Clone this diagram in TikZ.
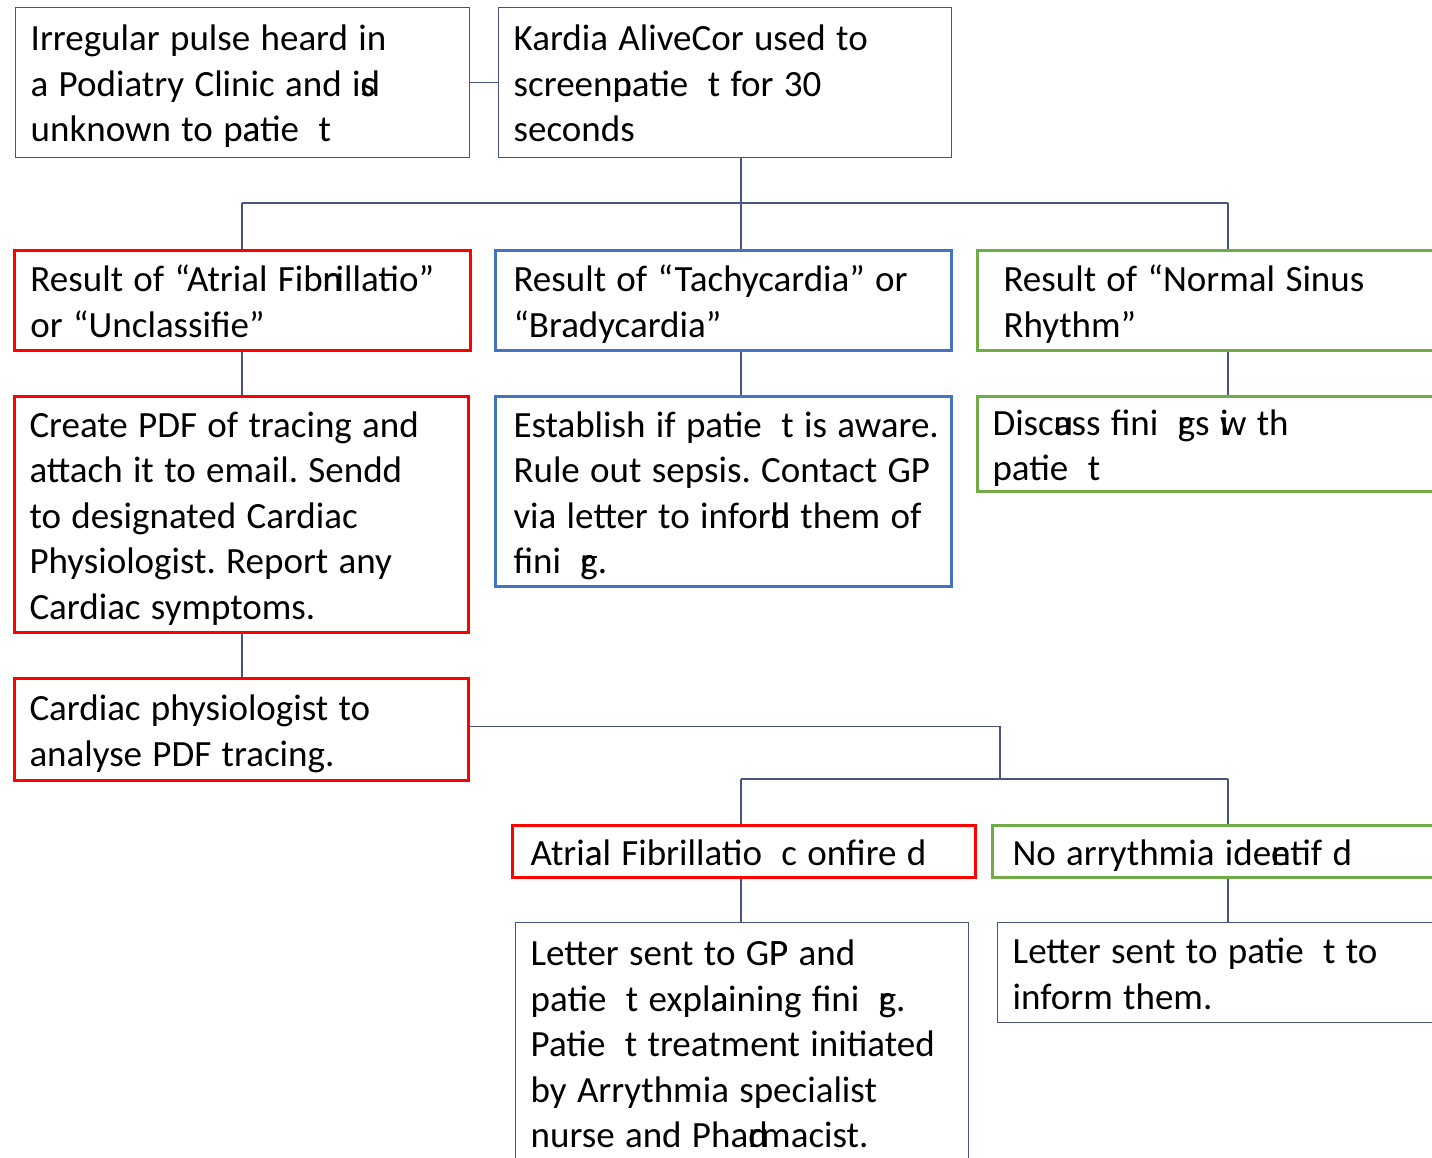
\documentclass[tikz,border=0pt]{standalone}
\usepackage{fontspec}
\setmainfont{Carlito}
\usetikzlibrary{backgrounds}
\definecolor{slate}{RGB}{72,84,128}
\definecolor{boxred}{RGB}{255,0,0}
\definecolor{boxblue}{RGB}{68,114,196}
\definecolor{boxgreen}{RGB}{112,173,71}
\newcommand{\boxfont}{\fontsize{37}{45.5}\selectfont\frenchspacing}
\tikzset{
  base/.style={rectangle, anchor=north west, align=left, inner xsep=15pt, inner ysep=0pt,
    font=\boxfont, text=black},
  plainbox/.style={base, draw=slate, line width=1.4pt},
  redbox/.style={base, draw=boxred, line width=3pt},
  bluebox/.style={base, draw=boxblue, line width=3pt},
  greenbox/.style={base, draw=boxgreen, line width=3pt},
  conn/.style={draw=slate, line width=1.4pt},
  ghost/.style={draw=slate, line width=1pt}
}
\newcommand{\gp}{\phantom{n}}
\newcommand{\lin}[1]{\mbox{\spaceskip=0.28em\relax\rule[-9pt]{0pt}{45.5pt}#1}}
\begin{document}
\begin{tikzpicture}[x=1pt,y=-1pt]
\useasboundingbox (0,0) rectangle (1432,1157);
\clip (0,0) rectangle (1432,1157);
\fill[white] (0,0) rectangle (1432,1157);
% row 1
\node[plainbox, minimum width=454pt, minimum height=150pt, text width=424pt] (a) at (15,7)
  {\lin{Irregular pulse heard in}\\\lin{a Podiatry Clinic and i\rlap{s}d}\\\lin{unknown to p\rlap{a}atie\gp t}};
\node[plainbox, minimum width=453pt, minimum height=150pt, text width=423pt] (b) at (498,7)
  {\lin{Kardia AliveCor used to}\\\lin{screen\rlap{n}patie\gp t for 30}\\\lin{seconds}};
% row 2
\node[redbox, minimum width=454pt, minimum height=100pt, text width=424pt, inner xsep=16pt] (r1) at (13,249)
  {\lin{Result of “Atrial Fib\rlap{n}rillatio”}\\\lin{or “Unclassifie”}};
\node[bluebox, minimum width=456pt, minimum height=100pt, text width=420pt, inner xsep=18pt] (bl1) at (494,249)
  {\lin{Result of “Tachycardia” or}\\\lin{“Bradycardia”}};
\node[greenbox, minimum width=470pt, minimum height=100pt, text width=430pt, inner xsep=26pt] (g1) at (976,249)
  {\lin{Result of “Normal Sinus}\\\lin{Rhythm”}};
% row 3
\node[redbox, minimum width=454pt, minimum height=236pt, text width=424pt, inner xsep=12pt] (r2) at (13,395)
  {\lin{Create PDF of tracing and}\\\lin{attach it to email. Sendd}\\\lin{to designated Cardiac}\\\lin{Physiologist. Report any}\\\lin{Cardiac symptoms.}};
\node[bluebox, minimum width=456pt, minimum height=190pt, text width=420pt, inner xsep=18pt] (bl2) at (494,395)
  {\lin{Establish if patie\gp t is aware.}\\\lin{Rule out sepsis. Contact GP}\\\lin{via letter to infor\rlap{d}h them of}\\\lin{fini\gp\rlap{r}g.}};
\node[greenbox, minimum width=470pt, minimum height=95pt, text width=440pt, inner xsep=14pt] (g2) at (976,395)
  {\lin{Disc\rlap{u}ass fini\gp\rlap{r}gs \rlap{i}w th}\\\lin{patie\gp t}};
% row 4
\node[redbox, minimum width=454pt, minimum height=102pt, text width=424pt, inner xsep=12pt] (r3) at (13,677)
  {\lin{Cardiac physiologist to}\\\lin{analyse PDF tracing.}};
% row 5
\node[redbox, minimum width=457pt, minimum height=52pt, text width=427pt, inner xsep=18pt] (r4) at (511,824)
  {\lin{Atri\rlap{a}al Fibrillatio\gp c onfire d}};
\node[greenbox, minimum width=460pt, minimum height=52pt, text width=430pt, inner xsep=20pt] (g4) at (991,824)
  {\lin{No arrythmia ide\rlap{e}ntif d}};
% row 6
\node[plainbox, minimum width=453pt, minimum height=241pt, text width=423pt] (l1) at (515,922)
  {\lin{Letter sent to G\rlap{P}P and}\\\lin{patie\gp t expl\rlap{a}aining fini\gp\rlap{r}g.}\\\lin{Patie\gp t treatment initiated}\\\lin{by Arrythmia specialist}\\\lin{nurse and Pha\rlap{d}rmacist.}};
\node[plainbox, minimum width=450pt, minimum height=100pt, text width=420pt] (l2) at (997,922)
  {\lin{Letter sent to patie\gp t to}\\\lin{inform them.}};
% ghost outlines behind coloured boxes
\begin{scope}[on background layer]
\draw[ghost] (r1.north west) rectangle ([xshift=3pt]r1.south east);
\draw[ghost] (r2.north west) rectangle ([xshift=3pt]r2.south east);
\draw[ghost] (r3.north west) rectangle ([xshift=3pt]r3.south east);
\draw[ghost] ([xshift=5pt]bl1.north west) rectangle (bl1.south east);
\draw[ghost] ([xshift=5pt]bl2.north west) rectangle (bl2.south east);
\draw[ghost] ([xshift=5pt]g1.north west) rectangle (g1.south east);
\draw[ghost] ([xshift=5pt]g2.north west) rectangle (g2.south east);
\draw[ghost] ([xshift=4pt]r4.north west) rectangle (r4.south east);
\draw[ghost] ([xshift=5pt]g4.north west) rectangle (g4.south east);
\end{scope}
% connectors
\coordinate (c1) at (242,203);
\coordinate (c2) at (741,203);
\coordinate (c3) at (1228,203);
\coordinate (c4) at (1000,779);
\coordinate (c5) at (741,779);
\coordinate (c6) at (1228,779);
\draw[conn] (a.east) -- (b.west);
\draw[conn] (b.south -| c2) -- (c2);
\draw[conn] (c1) -- (c3);
\draw[conn] (c1) -- (c1 |- r1.north);
\draw[conn] (c2) -- (c2 |- bl1.north);
\draw[conn] (c3) -- (c3 |- g1.north);
\draw[conn] (r1.south -| c1) -- (c1 |- r2.north);
\draw[conn] (bl1.south -| c2) -- (c2 |- bl2.north);
\draw[conn] (g1.south -| c3) -- (c3 |- g2.north);
\draw[conn] (r2.south -| c1) -- (c1 |- r3.north);
\draw[conn] ([yshift=3pt]r3.east) -| (c4);
\draw[conn] (c5) -- (c6);
\draw[conn] (c5) -- (c5 |- r4.north);
\draw[conn] (c6) -- (c6 |- g4.north);
\draw[conn] (r4.south -| c5) -- (c5 |- l1.north);
\draw[conn] (g4.south -| c6) -- (c6 |- l2.north);
\end{tikzpicture}
\end{document}
